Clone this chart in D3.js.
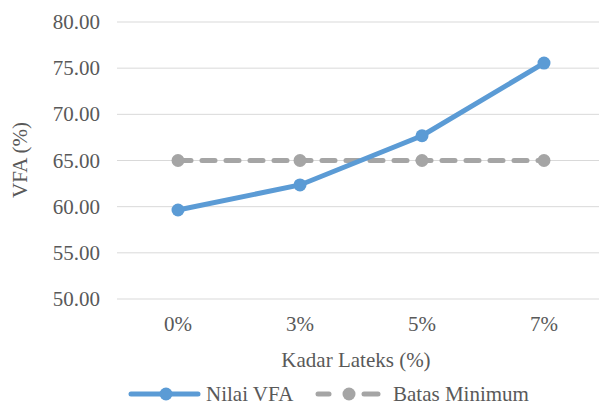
<!DOCTYPE html>
<html>
<head>
<meta charset="utf-8">
<script src="https://cdn.jsdelivr.net/npm/d3@7"></script>
</head>
<body style="margin:0; font-family: 'Liberation Serif', 'Times New Roman', FreeSerif, Tinos; font-size: 21px; color: #595959;">
<div id="chart" style="font-family: 'Liberation Serif', 'Times New Roman', FreeSerif, Tinos;"></div>
<script>
var categories = ["0%", "3%", "5%", "7%"];
var nilaiVFA = [59.64, 62.35, 67.68, 75.55];
var batasMinimum = [65, 65, 65, 65];
var yTicks = [50, 55, 60, 65, 70, 75, 80];

var W = 599, H = 405;
var svg = d3.select("#chart").append("svg")
  .attr("width", W)
  .attr("height", H)
  .style("font", "21px 'Liberation Serif', 'Times New Roman', FreeSerif, Tinos");

var x = d3.scaleBand().domain(categories).range([117, 605]);
var y = d3.scaleLinear().domain([50, 80]).range([299, 22]);
var cx = function(d, i) { return x(categories[i]) + x.bandwidth() / 2; };

// labels inherit the serif font from the svg
function addText(parent) {
  return parent.append("text")
    .style("font", "21px 'Liberation Serif', 'Times New Roman', FreeSerif, Tinos")
    .attr("fill", "#595959");
}

// gridlines
svg.append("g").selectAll("line")
  .data(yTicks)
  .enter().append("line")
    .attr("x1", 117).attr("x2", 605)
    .attr("y1", function(d) { return y(d); })
    .attr("y2", function(d) { return y(d); })
    .attr("stroke", "#d9d9d9")
    .attr("stroke-width", 1);

// y tick labels
yTicks.forEach(function(d) {
  addText(svg)
    .attr("x", 100)
    .attr("y", y(d) + 7)
    .attr("text-anchor", "end")
    .text(d.toFixed(2));
});

// x tick labels
categories.forEach(function(d) {
  addText(svg)
    .attr("x", x(d) + x.bandwidth() / 2)
    .attr("y", 331)
    .attr("text-anchor", "middle")
    .text(d);
});

// axis titles
addText(svg)
  .attr("x", 356).attr("y", 367)
  .attr("text-anchor", "middle")
  .text("Kadar Lateks (%)");

addText(svg)
  .attr("transform", "translate(27,160) rotate(-90)")
  .attr("text-anchor", "middle")
  .text("VFA (%)");

var line = d3.line()
  .x(function(d, i) { return cx(d, i); })
  .y(function(d) { return y(d); });

// batas minimum
svg.append("path")
  .datum(batasMinimum)
  .attr("d", line)
  .attr("fill", "none")
  .attr("stroke", "#a5a5a5")
  .attr("stroke-width", 5)
  .attr("stroke-linecap", "round")
  .attr("stroke-dasharray", "13,11");

svg.append("g").selectAll("circle")
  .data(batasMinimum)
  .enter().append("circle")
    .attr("cx", cx)
    .attr("cy", function(d) { return y(d); })
    .attr("r", 6.5)
    .attr("fill", "#a5a5a5");

// nilai VFA
svg.append("path")
  .datum(nilaiVFA)
  .attr("d", line)
  .attr("fill", "none")
  .attr("stroke", "#5b9bd5")
  .attr("stroke-width", 5)
  .attr("stroke-linecap", "round");

svg.append("g").selectAll("circle")
  .data(nilaiVFA)
  .enter().append("circle")
    .attr("cx", cx)
    .attr("cy", function(d) { return y(d); })
    .attr("r", 6.5)
    .attr("fill", "#5b9bd5");

// legend
var ly = 394;
var legend = svg.append("g");
legend.append("line")
  .attr("x1", 131).attr("x2", 198).attr("y1", ly).attr("y2", ly)
  .attr("stroke", "#5b9bd5").attr("stroke-width", 5).attr("stroke-linecap", "round");
legend.append("circle")
  .attr("cx", 166).attr("cy", ly).attr("r", 6.5).attr("fill", "#5b9bd5");
addText(legend)
  .attr("x", 206).attr("y", ly + 7)
  .text("Nilai VFA");

var dashSegs = [[318, 329], [364, 378]];
legend.append("g").selectAll("line")
  .data(dashSegs)
  .enter().append("line")
    .attr("x1", function(d) { return d[0]; })
    .attr("x2", function(d) { return d[1]; })
    .attr("y1", ly).attr("y2", ly)
    .attr("stroke", "#a5a5a5").attr("stroke-width", 5).attr("stroke-linecap", "round");
legend.append("circle")
  .attr("cx", 349).attr("cy", ly).attr("r", 6.5).attr("fill", "#a5a5a5");
addText(legend)
  .attr("x", 393).attr("y", ly + 7)
  .text("Batas Minimum");
</script>
</body>
</html>
